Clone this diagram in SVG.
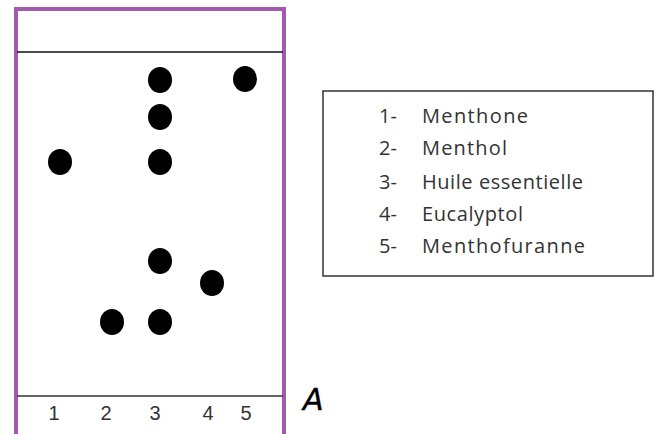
<svg xmlns="http://www.w3.org/2000/svg" width="657" height="434" viewBox="0 0 657 434">
<style>
.spot{fill:#000}
.lane{font-family:"Liberation Sans",Arial,sans-serif;font-size:20px;fill:#333;text-anchor:middle}
.leg{font-family:"Open Sans","Liberation Sans",sans-serif;font-size:20px;fill:#333}
</style>
<rect width="657" height="434" fill="#fff"/>
<g id="plate">
<rect x="16" y="9" width="268" height="440" fill="none" stroke="#a25ab0" stroke-width="4"/>
<line x1="17" y1="52" x2="283" y2="52" stroke="#111" stroke-width="1.5"/>
<line x1="17" y1="396" x2="283" y2="396" stroke="#333" stroke-width="1.5"/>
</g>
<g id="spots">
<ellipse class="spot" cx="160" cy="80" rx="12" ry="13"/>
<ellipse class="spot" cx="245" cy="79" rx="12" ry="13"/>
<ellipse class="spot" cx="160" cy="117" rx="12" ry="13"/>
<ellipse class="spot" cx="60" cy="162" rx="12" ry="13"/>
<ellipse class="spot" cx="160" cy="162" rx="12" ry="13"/>
<ellipse class="spot" cx="160" cy="261" rx="12" ry="13"/>
<ellipse class="spot" cx="212" cy="283" rx="12" ry="13"/>
<ellipse class="spot" cx="112" cy="322" rx="12" ry="13"/>
<ellipse class="spot" cx="160" cy="322" rx="12" ry="13"/>
</g>
<g id="lanes">
<text class="lane" x="54" y="420">1</text>
<text class="lane" x="106" y="420">2</text>
<text class="lane" x="155" y="420">3</text>
<text class="lane" x="208" y="420">4</text>
<text class="lane" x="246" y="420">5</text>
</g>
<g id="labelA">
<text x="303" y="410" font-family="DejaVu Sans,sans-serif" font-style="italic" font-size="30" fill="#000" stroke="#000" stroke-width="0.4">A</text>
</g>
<g id="legend">
<rect x="323" y="91" width="330" height="185" fill="#fff" stroke="#333" stroke-width="1.5"/>
<text class="leg" x="379" y="123">1-</text>
<text class="leg" x="422" y="123" textLength="106" lengthAdjust="spacing">Menthone</text>
<text class="leg" x="379" y="155">2-</text>
<text class="leg" x="422" y="155" textLength="85" lengthAdjust="spacing">Menthol</text>
<text class="leg" x="379" y="189">3-</text>
<text class="leg" x="422" y="189" textLength="161" lengthAdjust="spacing">Huile essentielle</text>
<text class="leg" x="379" y="221">4-</text>
<text class="leg" x="422" y="221" textLength="101" lengthAdjust="spacing">Eucalyptol</text>
<text class="leg" x="379" y="253">5-</text>
<text class="leg" x="422" y="253" textLength="163" lengthAdjust="spacing">Menthofuranne</text>
</g>
</svg>
